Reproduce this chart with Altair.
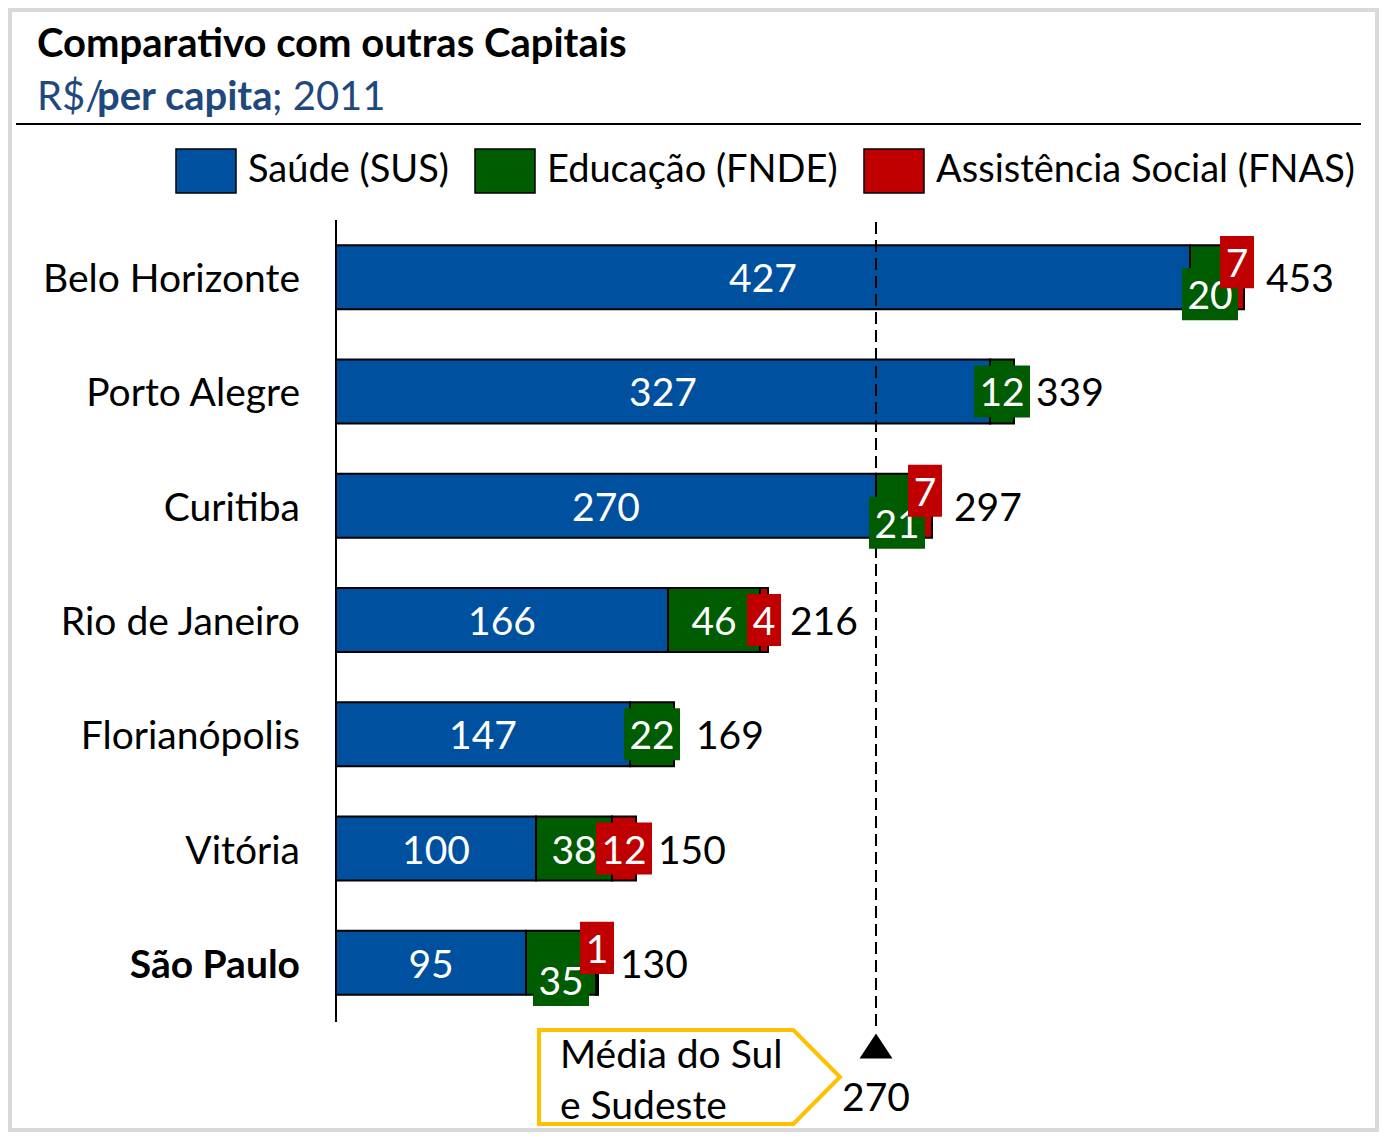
import altair as alt
import pandas as pd

# ---------------- data ----------------
cities = ["Belo Horizonte", "Porto Alegre", "Curitiba", "Rio de Janeiro",
          "Florianópolis", "Vitória", "São Paulo"]
saude = [427, 327, 270, 166, 147, 100, 95]
educacao = [20, 12, 21, 46, 22, 38, 35]
assistencia = [7, 0, 7, 4, 0, 12, 1]
totais = [453, 339, 297, 216, 169, 150, 130]
categorias = ["Saúde (SUS)", "Educação (FNDE)", "Assistência Social (FNAS)"]
media = 270
highlight = "São Paulo"

# ---------------- styling ----------------
cores = ["#0050A0", "#005C00", "#C00000"]
FONT = "Lato"
FS = 39
DY = 3                   # optical centring of text in bars
BOX_LIMIT = 36           # small segments get their label on a coloured box
SHIFT = {1: 17, 2: -15}  # label nudge when both small labels collide

rows = []
for i, c in enumerate(cities):
    vals = [saude[i], educacao[i], assistencia[i]]
    collide = educacao[i] < BOX_LIMIT and assistencia[i] > 0
    start = 0
    for k, (cat, v) in enumerate(zip(categorias, vals)):
        if v <= 0:
            continue
        end = start + v
        rows.append(dict(city=c, cat=cat, value=v, start=start, end=end,
                         mid=(start + end) / 2, label=str(v),
                         digits=str(len(str(v))), order=k,
                         boxed=bool(k > 0 and v < BOX_LIMIT),
                         shift=SHIFT[k] if (collide and k > 0) else 0))
        start = end
seg = pd.DataFrame(rows)
tot = pd.DataFrame({"city": cities, "total": totais,
                    "end": [s + e + a for s, e, a in zip(saude, educacao, assistencia)]})
avg = pd.DataFrame({"media": [media]})
one = pd.DataFrame({"k": [0]})

xs = alt.Scale(domain=[0, 500], range=[328, 1328])
ys = alt.Scale(range=[212, 1012], paddingInner=0.44, paddingOuter=0.22)
cs = alt.Scale(domain=categorias, range=cores)

X = lambda f: alt.X(f, scale=xs, axis=None)
Y = alt.Y("city:N", scale=ys, sort=cities, axis=None)

box2 = "M-1,-0.93H1V0.93H-1Z"
box1 = "M-0.607,-0.93H0.607V0.93H-0.607Z"

legend = alt.Legend(
    orient="none", legendX=167, legendY=132, direction="horizontal", columns=3,
    title=None, symbolType="M-1,-0.733H1V0.733H-1Z", symbolSize=3600,
    symbolStrokeColor="black", symbolStrokeWidth=1.5, symbolOpacity=1,
    labelFont=FONT, labelFontSize=38, labelColor="black", labelLimit=700,
    labelOffset=11, columnPadding=23, padding=0)

bars = alt.Chart(seg).mark_bar(stroke="black", strokeWidth=2, opacity=1).encode(
    x=X("start:Q"), x2="end:Q", y=Y,
    color=alt.Color("cat:N", scale=cs, legend=legend))

txt = dict(font=FONT, fontSize=FS, baseline="middle", align="center")

blue_lbl = alt.Chart(seg).transform_filter("datum.order == 0").mark_text(
    color="white", dy=DY, **txt).encode(x=X("mid:Q"), y=Y, text="label:N")

small_layers = []
for k in [1, 2]:
    for s in [0, SHIFT[k]]:
        base = alt.Chart(seg).transform_filter(
            f"datum.order == {k} && datum.shift == {s}")
        small_layers.append(
            base.transform_filter("datum.boxed").mark_point(
                filled=True, opacity=1, size=3136, strokeWidth=0, yOffset=s
            ).encode(
                x=X("mid:Q"), y=Y,
                shape=alt.Shape("digits:N", scale=alt.Scale(domain=["1", "2"], range=[box1, box2]), legend=None),
                color=alt.Color("cat:N", scale=cs, legend=None)))
        small_layers.append(
            base.mark_text(color="white", dy=s + DY, **txt).encode(
                x=X("mid:Q"), y=Y, text="label:N"))

tot_lbl = alt.Chart(tot).mark_text(
    font=FONT, fontSize=FS, baseline="middle", align="left", dx=22, dy=DY, color="black"
).encode(x=X("end:Q"), y=Y, text="total:N")

city_normal = alt.Chart(tot).transform_filter(alt.datum.city != highlight).mark_text(
    font=FONT, fontSize=FS, baseline="middle", align="right", color="black", dy=DY
).encode(x=alt.value(292), y=Y, text="city:N")
city_bold = alt.Chart(tot).transform_filter(alt.datum.city == highlight).mark_text(
    font=FONT, fontSize=FS, baseline="middle", align="right", color="black",
    fontWeight="bold", dy=DY
).encode(x=alt.value(292), y=Y, text="city:N")

axis_line = alt.Chart(one).mark_rule(color="black", strokeWidth=2).encode(
    x=X("k:Q"), y=alt.value(212), y2=alt.value(1014))

avg_line = alt.Chart(avg).mark_rule(color="black", strokeWidth=2, strokeDash=[12, 6]).encode(
    x=X("media:Q"), y=alt.value(214), y2=alt.value(1018))
avg_tri = alt.Chart(avg).mark_point(
    shape="M0,-0.76L1,0.76L-1,0.76Z", size=1089, filled=True, opacity=1,
    color="black", strokeWidth=0).encode(x=X("media:Q"), y=alt.value(1038))
avg_val = alt.Chart(avg).mark_text(font=FONT, fontSize=FS, baseline="middle",
                                   align="center", color="black").encode(
    x=X("media:Q"), y=alt.value(1091), text="media:Q")

callout = alt.Chart(one).mark_point(
    shape="M-1,-0.312L0.69,-0.312L1,0L0.69,0.312L-1,0.312Z", size=90601,
    filled=False, opacity=1, color="#FFC000", strokeWidth=4
).encode(x=alt.value(681.5), y=alt.value(1069))
callout_txt = alt.Chart(one).mark_text(
    text=["Média do Sul", "e Sudeste"], font=FONT, fontSize=FS, lineHeight=51,
    baseline="middle", align="left", color="black"
).encode(x=alt.value(552), y=alt.value(1048))

title = alt.Chart(one).mark_text(
    text="Comparativo com outras Capitais", font=FONT, fontSize=40, fontWeight="bold",
    align="left", baseline="alphabetic", color="black"
).encode(x=alt.value(29), y=alt.value(49))
sub_color = "#1F497D"
sub1 = alt.Chart(one).mark_text(text="R$/", font=FONT, fontSize=40, align="left",
                                baseline="alphabetic", color=sub_color
                                ).encode(x=alt.value(29), y=alt.value(102))
sub2 = alt.Chart(one).mark_text(text="per capita", font=FONT, fontSize=40, fontWeight="bold",
                                align="left", baseline="alphabetic", color=sub_color
                                ).encode(x=alt.value(89), y=alt.value(102))
sub3 = alt.Chart(one).mark_text(text="; 2011", font=FONT, fontSize=40, align="left",
                                baseline="alphabetic", color=sub_color
                                ).encode(x=alt.value(264), y=alt.value(102))
head_rule = alt.Chart(one).mark_rule(color="black", strokeWidth=2).encode(
    x=alt.value(8), x2=alt.value(1353), y=alt.value(116))
border = alt.Chart(one).mark_rect(fillOpacity=0, stroke="#D9D9D9", strokeWidth=4).encode(
    x=alt.value(2), x2=alt.value(1369), y=alt.value(2), y2=alt.value(1122))

chart = alt.layer(
    border, head_rule, title, sub1, sub2, sub3,
    bars, axis_line, avg_line, blue_lbl, *small_layers, tot_lbl, city_normal, city_bold,
    avg_tri, avg_val, callout, callout_txt
).properties(
    width=1371, height=1124, autosize=alt.AutoSizeParams(type="none"), padding=0,
    background="white"
).configure_view(strokeWidth=0)

chart.save("out.html", embed_options={"renderer": "svg", "actions": False})
